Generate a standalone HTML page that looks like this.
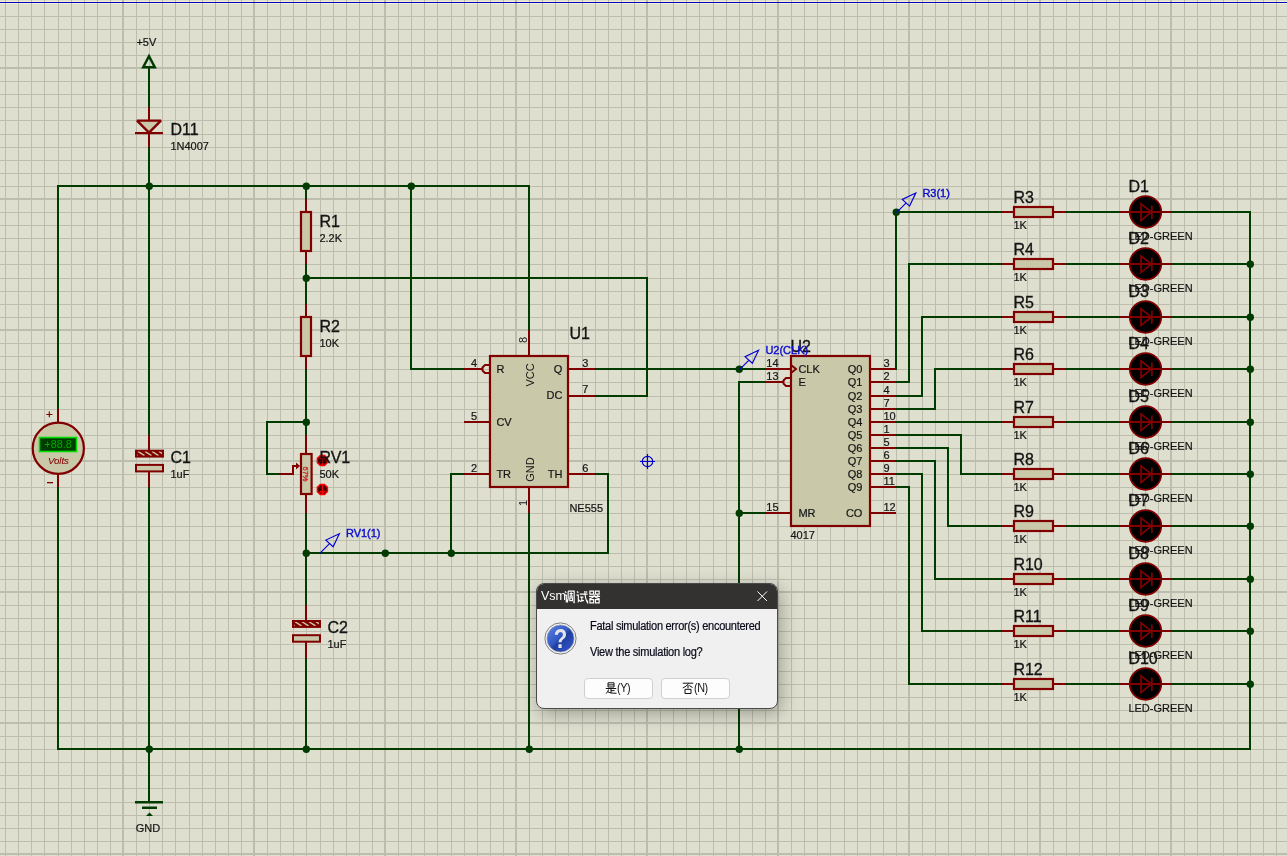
<!DOCTYPE html>
<html><head><meta charset="utf-8"><style>
html,body{margin:0;padding:0;width:1287px;height:856px;overflow:hidden;background:#dfdfd0;}
body{position:relative;font-family:"Liberation Sans", sans-serif;}
</style></head><body>
<svg width="1287" height="856" viewBox="0 0 1287 856" style="position:absolute;left:0;top:0;will-change:transform" font-family='"Liberation Sans", sans-serif'>
<rect width="1287" height="856" fill="#dfdfd0"/>
<rect x="0" y="1" width="1287" height="1" fill="#f4f2d8"/>
<rect x="0" y="3" width="1287" height="1" fill="#f4f2d8"/>
<g fill="#bdbdae" shape-rendering="crispEdges"><rect x="5" y="0" width="1" height="856"/><rect x="18" y="0" width="1" height="856"/><rect x="31" y="0" width="1" height="856"/><rect x="44" y="0" width="1" height="856"/><rect x="58" y="0" width="1" height="856"/><rect x="71" y="0" width="1" height="856"/><rect x="84" y="0" width="1" height="856"/><rect x="97" y="0" width="1" height="856"/><rect x="110" y="0" width="1" height="856"/><rect x="122" y="0" width="2" height="856"/><rect x="136" y="0" width="1" height="856"/><rect x="149" y="0" width="1" height="856"/><rect x="162" y="0" width="1" height="856"/><rect x="175" y="0" width="1" height="856"/><rect x="189" y="0" width="1" height="856"/><rect x="202" y="0" width="1" height="856"/><rect x="215" y="0" width="1" height="856"/><rect x="228" y="0" width="1" height="856"/><rect x="241" y="0" width="1" height="856"/><rect x="253" y="0" width="2" height="856"/><rect x="267" y="0" width="1" height="856"/><rect x="280" y="0" width="1" height="856"/><rect x="293" y="0" width="1" height="856"/><rect x="306" y="0" width="1" height="856"/><rect x="320" y="0" width="1" height="856"/><rect x="333" y="0" width="1" height="856"/><rect x="346" y="0" width="1" height="856"/><rect x="359" y="0" width="1" height="856"/><rect x="372" y="0" width="1" height="856"/><rect x="384" y="0" width="2" height="856"/><rect x="398" y="0" width="1" height="856"/><rect x="411" y="0" width="1" height="856"/><rect x="424" y="0" width="1" height="856"/><rect x="437" y="0" width="1" height="856"/><rect x="451" y="0" width="1" height="856"/><rect x="464" y="0" width="1" height="856"/><rect x="477" y="0" width="1" height="856"/><rect x="490" y="0" width="1" height="856"/><rect x="503" y="0" width="1" height="856"/><rect x="515" y="0" width="2" height="856"/><rect x="529" y="0" width="1" height="856"/><rect x="542" y="0" width="1" height="856"/><rect x="555" y="0" width="1" height="856"/><rect x="568" y="0" width="1" height="856"/><rect x="582" y="0" width="1" height="856"/><rect x="595" y="0" width="1" height="856"/><rect x="608" y="0" width="1" height="856"/><rect x="621" y="0" width="1" height="856"/><rect x="634" y="0" width="1" height="856"/><rect x="646" y="0" width="2" height="856"/><rect x="660" y="0" width="1" height="856"/><rect x="673" y="0" width="1" height="856"/><rect x="686" y="0" width="1" height="856"/><rect x="699" y="0" width="1" height="856"/><rect x="713" y="0" width="1" height="856"/><rect x="726" y="0" width="1" height="856"/><rect x="739" y="0" width="1" height="856"/><rect x="752" y="0" width="1" height="856"/><rect x="765" y="0" width="1" height="856"/><rect x="777" y="0" width="2" height="856"/><rect x="791" y="0" width="1" height="856"/><rect x="804" y="0" width="1" height="856"/><rect x="817" y="0" width="1" height="856"/><rect x="830" y="0" width="1" height="856"/><rect x="844" y="0" width="1" height="856"/><rect x="857" y="0" width="1" height="856"/><rect x="870" y="0" width="1" height="856"/><rect x="883" y="0" width="1" height="856"/><rect x="896" y="0" width="1" height="856"/><rect x="908" y="0" width="2" height="856"/><rect x="922" y="0" width="1" height="856"/><rect x="935" y="0" width="1" height="856"/><rect x="948" y="0" width="1" height="856"/><rect x="961" y="0" width="1" height="856"/><rect x="975" y="0" width="1" height="856"/><rect x="988" y="0" width="1" height="856"/><rect x="1001" y="0" width="1" height="856"/><rect x="1014" y="0" width="1" height="856"/><rect x="1027" y="0" width="1" height="856"/><rect x="1039" y="0" width="2" height="856"/><rect x="1053" y="0" width="1" height="856"/><rect x="1066" y="0" width="1" height="856"/><rect x="1079" y="0" width="1" height="856"/><rect x="1092" y="0" width="1" height="856"/><rect x="1106" y="0" width="1" height="856"/><rect x="1119" y="0" width="1" height="856"/><rect x="1132" y="0" width="1" height="856"/><rect x="1145" y="0" width="1" height="856"/><rect x="1158" y="0" width="1" height="856"/><rect x="1170" y="0" width="2" height="856"/><rect x="1184" y="0" width="1" height="856"/><rect x="1197" y="0" width="1" height="856"/><rect x="1210" y="0" width="1" height="856"/><rect x="1223" y="0" width="1" height="856"/><rect x="1237" y="0" width="1" height="856"/><rect x="1250" y="0" width="1" height="856"/><rect x="1263" y="0" width="1" height="856"/><rect x="1276" y="0" width="1" height="856"/><rect x="0" y="16" width="1287" height="1"/><rect x="0" y="29" width="1287" height="1"/><rect x="0" y="42" width="1287" height="1"/><rect x="0" y="55" width="1287" height="1"/><rect x="0" y="67" width="1287" height="2"/><rect x="0" y="81" width="1287" height="1"/><rect x="0" y="94" width="1287" height="1"/><rect x="0" y="107" width="1287" height="1"/><rect x="0" y="120" width="1287" height="1"/><rect x="0" y="134" width="1287" height="1"/><rect x="0" y="147" width="1287" height="1"/><rect x="0" y="160" width="1287" height="1"/><rect x="0" y="173" width="1287" height="1"/><rect x="0" y="186" width="1287" height="1"/><rect x="0" y="198" width="1287" height="2"/><rect x="0" y="212" width="1287" height="1"/><rect x="0" y="225" width="1287" height="1"/><rect x="0" y="238" width="1287" height="1"/><rect x="0" y="251" width="1287" height="1"/><rect x="0" y="264" width="1287" height="1"/><rect x="0" y="278" width="1287" height="1"/><rect x="0" y="291" width="1287" height="1"/><rect x="0" y="304" width="1287" height="1"/><rect x="0" y="317" width="1287" height="1"/><rect x="0" y="329" width="1287" height="2"/><rect x="0" y="343" width="1287" height="1"/><rect x="0" y="356" width="1287" height="1"/><rect x="0" y="369" width="1287" height="1"/><rect x="0" y="382" width="1287" height="1"/><rect x="0" y="396" width="1287" height="1"/><rect x="0" y="409" width="1287" height="1"/><rect x="0" y="422" width="1287" height="1"/><rect x="0" y="435" width="1287" height="1"/><rect x="0" y="448" width="1287" height="1"/><rect x="0" y="460" width="1287" height="2"/><rect x="0" y="474" width="1287" height="1"/><rect x="0" y="487" width="1287" height="1"/><rect x="0" y="500" width="1287" height="1"/><rect x="0" y="513" width="1287" height="1"/><rect x="0" y="526" width="1287" height="1"/><rect x="0" y="540" width="1287" height="1"/><rect x="0" y="553" width="1287" height="1"/><rect x="0" y="566" width="1287" height="1"/><rect x="0" y="579" width="1287" height="1"/><rect x="0" y="591" width="1287" height="2"/><rect x="0" y="605" width="1287" height="1"/><rect x="0" y="618" width="1287" height="1"/><rect x="0" y="631" width="1287" height="1"/><rect x="0" y="644" width="1287" height="1"/><rect x="0" y="658" width="1287" height="1"/><rect x="0" y="671" width="1287" height="1"/><rect x="0" y="684" width="1287" height="1"/><rect x="0" y="697" width="1287" height="1"/><rect x="0" y="710" width="1287" height="1"/><rect x="0" y="722" width="1287" height="2"/><rect x="0" y="736" width="1287" height="1"/><rect x="0" y="749" width="1287" height="1"/><rect x="0" y="762" width="1287" height="1"/><rect x="0" y="775" width="1287" height="1"/><rect x="0" y="788" width="1287" height="1"/><rect x="0" y="802" width="1287" height="1"/><rect x="0" y="815" width="1287" height="1"/><rect x="0" y="828" width="1287" height="1"/><rect x="0" y="841" width="1287" height="1"/><rect x="0" y="853" width="1287" height="2"/></g>
<rect x="0" y="2" width="1287" height="1" fill="#0000c0"/>
<g shape-rendering="crispEdges"><rect x="57" y="185" width="2" height="225" fill="#003c00"/><rect x="57" y="486" width="2" height="264" fill="#003c00"/><rect x="57" y="185" width="473" height="2" fill="#003c00"/><rect x="148" y="67" width="2" height="41" fill="#003c00"/><rect x="148" y="146" width="2" height="290" fill="#003c00"/><rect x="148" y="486" width="2" height="317" fill="#003c00"/><rect x="305" y="185" width="2" height="15" fill="#003c00"/><rect x="305" y="263" width="2" height="42" fill="#003c00"/><rect x="305" y="368" width="2" height="68" fill="#003c00"/><rect x="305" y="512" width="2" height="94" fill="#003c00"/><rect x="305" y="657" width="2" height="93" fill="#003c00"/><rect x="305" y="277" width="343" height="2" fill="#003c00"/><rect x="646" y="277" width="2" height="120" fill="#003c00"/><rect x="594" y="395" width="54" height="2" fill="#003c00"/><rect x="410" y="185" width="2" height="185" fill="#003c00"/><rect x="410" y="368" width="55" height="2" fill="#003c00"/><rect x="528" y="185" width="2" height="146" fill="#003c00"/><rect x="528" y="512" width="2" height="238" fill="#003c00"/><rect x="450" y="473" width="15" height="2" fill="#003c00"/><rect x="450" y="473" width="2" height="81" fill="#003c00"/><rect x="594" y="473" width="15" height="2" fill="#003c00"/><rect x="607" y="473" width="2" height="81" fill="#003c00"/><rect x="305" y="552" width="304" height="2" fill="#003c00"/><rect x="594" y="368" width="172" height="2" fill="#003c00"/><rect x="738" y="381" width="2" height="369" fill="#003c00"/><rect x="738" y="381" width="28" height="2" fill="#003c00"/><rect x="738" y="512" width="28" height="2" fill="#003c00"/><rect x="57" y="748" width="1194" height="2" fill="#003c00"/><rect x="1249" y="211" width="2" height="539" fill="#003c00"/><rect x="895" y="368" width="2" height="2" fill="#003c00"/><rect x="895" y="211" width="2" height="159" fill="#003c00"/><rect x="895" y="211" width="107" height="2" fill="#003c00"/><rect x="1065" y="211" width="55" height="2" fill="#003c00"/><rect x="1170" y="211" width="81" height="2" fill="#003c00"/><rect x="895" y="381" width="15" height="2" fill="#003c00"/><rect x="908" y="263" width="2" height="120" fill="#003c00"/><rect x="908" y="263" width="94" height="2" fill="#003c00"/><rect x="1065" y="263" width="55" height="2" fill="#003c00"/><rect x="1170" y="263" width="81" height="2" fill="#003c00"/><rect x="895" y="395" width="28" height="2" fill="#003c00"/><rect x="921" y="316" width="2" height="81" fill="#003c00"/><rect x="921" y="316" width="81" height="2" fill="#003c00"/><rect x="1065" y="316" width="55" height="2" fill="#003c00"/><rect x="1170" y="316" width="81" height="2" fill="#003c00"/><rect x="895" y="408" width="41" height="2" fill="#003c00"/><rect x="934" y="368" width="2" height="42" fill="#003c00"/><rect x="934" y="368" width="68" height="2" fill="#003c00"/><rect x="1065" y="368" width="55" height="2" fill="#003c00"/><rect x="1170" y="368" width="81" height="2" fill="#003c00"/><rect x="895" y="421" width="107" height="2" fill="#003c00"/><rect x="1065" y="421" width="55" height="2" fill="#003c00"/><rect x="1170" y="421" width="81" height="2" fill="#003c00"/><rect x="895" y="434" width="67" height="2" fill="#003c00"/><rect x="960" y="434" width="2" height="41" fill="#003c00"/><rect x="960" y="473" width="42" height="2" fill="#003c00"/><rect x="1065" y="473" width="55" height="2" fill="#003c00"/><rect x="1170" y="473" width="81" height="2" fill="#003c00"/><rect x="895" y="447" width="54" height="2" fill="#003c00"/><rect x="947" y="447" width="2" height="80" fill="#003c00"/><rect x="947" y="525" width="55" height="2" fill="#003c00"/><rect x="1065" y="525" width="55" height="2" fill="#003c00"/><rect x="1170" y="525" width="81" height="2" fill="#003c00"/><rect x="895" y="460" width="41" height="2" fill="#003c00"/><rect x="934" y="460" width="2" height="120" fill="#003c00"/><rect x="934" y="578" width="68" height="2" fill="#003c00"/><rect x="1065" y="578" width="55" height="2" fill="#003c00"/><rect x="1170" y="578" width="81" height="2" fill="#003c00"/><rect x="895" y="473" width="28" height="2" fill="#003c00"/><rect x="921" y="473" width="2" height="159" fill="#003c00"/><rect x="921" y="630" width="81" height="2" fill="#003c00"/><rect x="1065" y="630" width="55" height="2" fill="#003c00"/><rect x="1170" y="630" width="81" height="2" fill="#003c00"/><rect x="895" y="486" width="15" height="2" fill="#003c00"/><rect x="908" y="486" width="2" height="199" fill="#003c00"/><rect x="908" y="683" width="94" height="2" fill="#003c00"/><rect x="1065" y="683" width="55" height="2" fill="#003c00"/><rect x="1170" y="683" width="81" height="2" fill="#003c00"/><rect x="266" y="421" width="41" height="2" fill="#003c00"/><rect x="266" y="421" width="2" height="54" fill="#003c00"/><rect x="266" y="473" width="15" height="2" fill="#003c00"/><rect x="148" y="107" width="2" height="40" fill="#800000"/><rect x="57" y="409" width="2" height="13" fill="#800000"/><rect x="57" y="474" width="2" height="13" fill="#800000"/><rect x="148" y="435" width="2" height="16" fill="#800000"/><rect x="148" y="471" width="2" height="16" fill="#800000"/><rect x="305" y="605" width="2" height="16" fill="#800000"/><rect x="305" y="641" width="2" height="17" fill="#800000"/><rect x="305" y="199" width="2" height="13" fill="#800000"/><rect x="305" y="251" width="2" height="13" fill="#800000"/><rect x="305" y="304" width="2" height="13" fill="#800000"/><rect x="305" y="356" width="2" height="13" fill="#800000"/><rect x="305" y="435" width="2" height="19" fill="#800000"/><rect x="305" y="494" width="2" height="19" fill="#800000"/><rect x="280" y="473" width="13" height="2" fill="#800000"/><rect x="292" y="465" width="2" height="10" fill="#800000"/><rect x="292" y="465" width="6" height="2" fill="#800000"/><rect x="464" y="368" width="19" height="2" fill="#800000"/><rect x="464" y="421" width="26" height="2" fill="#800000"/><rect x="464" y="473" width="26" height="2" fill="#800000"/><rect x="568" y="368" width="27" height="2" fill="#800000"/><rect x="568" y="395" width="27" height="2" fill="#800000"/><rect x="568" y="473" width="27" height="2" fill="#800000"/><rect x="528" y="330" width="2" height="26" fill="#800000"/><rect x="528" y="487" width="2" height="26" fill="#800000"/><rect x="765" y="368" width="26" height="2" fill="#800000"/><rect x="765" y="381" width="18" height="2" fill="#800000"/><rect x="765" y="512" width="26" height="2" fill="#800000"/><rect x="870" y="368" width="26" height="2" fill="#800000"/><rect x="870" y="381" width="26" height="2" fill="#800000"/><rect x="870" y="395" width="26" height="2" fill="#800000"/><rect x="870" y="408" width="26" height="2" fill="#800000"/><rect x="870" y="421" width="26" height="2" fill="#800000"/><rect x="870" y="434" width="26" height="2" fill="#800000"/><rect x="870" y="447" width="26" height="2" fill="#800000"/><rect x="870" y="460" width="26" height="2" fill="#800000"/><rect x="870" y="473" width="26" height="2" fill="#800000"/><rect x="870" y="486" width="26" height="2" fill="#800000"/><rect x="870" y="512" width="26" height="2" fill="#800000"/><rect x="1001" y="211" width="13" height="2" fill="#800000"/><rect x="1053" y="211" width="13" height="2" fill="#800000"/><rect x="1001" y="263" width="13" height="2" fill="#800000"/><rect x="1053" y="263" width="13" height="2" fill="#800000"/><rect x="1001" y="316" width="13" height="2" fill="#800000"/><rect x="1053" y="316" width="13" height="2" fill="#800000"/><rect x="1001" y="368" width="13" height="2" fill="#800000"/><rect x="1053" y="368" width="13" height="2" fill="#800000"/><rect x="1001" y="421" width="13" height="2" fill="#800000"/><rect x="1053" y="421" width="13" height="2" fill="#800000"/><rect x="1001" y="473" width="13" height="2" fill="#800000"/><rect x="1053" y="473" width="13" height="2" fill="#800000"/><rect x="1001" y="525" width="13" height="2" fill="#800000"/><rect x="1053" y="525" width="13" height="2" fill="#800000"/><rect x="1001" y="578" width="13" height="2" fill="#800000"/><rect x="1053" y="578" width="13" height="2" fill="#800000"/><rect x="1001" y="630" width="13" height="2" fill="#800000"/><rect x="1053" y="630" width="13" height="2" fill="#800000"/><rect x="1001" y="683" width="13" height="2" fill="#800000"/><rect x="1053" y="683" width="13" height="2" fill="#800000"/></g>
<g fill="#003c00"><circle cx="1250.3" cy="264.3" r="3.7"/><circle cx="1250.3" cy="317.3" r="3.7"/><circle cx="1250.3" cy="369.3" r="3.7"/><circle cx="1250.3" cy="422.3" r="3.7"/><circle cx="1250.3" cy="474.3" r="3.7"/><circle cx="1250.3" cy="526.3" r="3.7"/><circle cx="1250.3" cy="579.3" r="3.7"/><circle cx="1250.3" cy="631.3" r="3.7"/><circle cx="1250.3" cy="684.3" r="3.7"/><circle cx="149.3" cy="186.3" r="3.7"/><circle cx="306.3" cy="186.3" r="3.7"/><circle cx="411.3" cy="186.3" r="3.7"/><circle cx="306.3" cy="278.3" r="3.7"/><circle cx="306.3" cy="422.3" r="3.7"/><circle cx="306.3" cy="553.3" r="3.7"/><circle cx="385.3" cy="553.3" r="3.7"/><circle cx="451.3" cy="553.3" r="3.7"/><circle cx="149.3" cy="749.3" r="3.7"/><circle cx="306.3" cy="749.3" r="3.7"/><circle cx="529.3" cy="749.3" r="3.7"/><circle cx="739.3" cy="749.3" r="3.7"/><circle cx="739.3" cy="369.3" r="3.7"/><circle cx="739.3" cy="513.3" r="3.7"/><circle cx="896.3" cy="212.3" r="3.7"/></g>
<polygon points="143.2,67.2 154.8,67.2 149,56.2" fill="none" stroke="#003c00" stroke-width="2.5" stroke-linejoin="miter"/><polygon points="137,120.6 161,120.6 149,132.6" fill="#c9c9aa" stroke="#800000" stroke-width="2.3" stroke-linejoin="bevel"/><rect x="135" y="132" width="28" height="2.2" fill="#800000"/><circle cx="58.3" cy="448.3" r="25.6" fill="#c9c9aa" stroke="#800000" stroke-width="2.2"/><rect x="39.5" y="437.5" width="37" height="14" fill="#003c00" stroke="#00e000" stroke-width="1.6"/><rect x="47" y="482" width="6" height="1.3" fill="#800000"/><clipPath id="cc11"><rect x="137" y="451.6" width="25" height="4.1"/></clipPath><rect x="136" y="450.7" width="27" height="5.9" fill="#800000" stroke="#800000" stroke-width="2"/><g clip-path="url(#cc11)" stroke="#c9c9aa" stroke-width="1.4"><line x1="131.0" y1="451.4" x2="137.5" y2="455.6"/><line x1="138.0" y1="451.4" x2="144.5" y2="455.6"/><line x1="145.0" y1="451.4" x2="151.5" y2="455.6"/><line x1="152.0" y1="451.4" x2="158.5" y2="455.6"/><line x1="159.0" y1="451.4" x2="165.5" y2="455.6"/></g><rect x="136" y="464.9" width="27" height="6.5" fill="#c9c9aa" stroke="#800000" stroke-width="2"/><clipPath id="cc23"><rect x="294" y="621.9" width="25" height="4.1"/></clipPath><rect x="293" y="621.0" width="27" height="5.9" fill="#800000" stroke="#800000" stroke-width="2"/><g clip-path="url(#cc23)" stroke="#c9c9aa" stroke-width="1.4"><line x1="288.0" y1="621.7" x2="294.5" y2="625.9"/><line x1="295.0" y1="621.7" x2="301.5" y2="625.9"/><line x1="302.0" y1="621.7" x2="308.5" y2="625.9"/><line x1="309.0" y1="621.7" x2="315.5" y2="625.9"/><line x1="316.0" y1="621.7" x2="322.5" y2="625.9"/></g><rect x="293" y="635.2" width="27" height="6.5" fill="#c9c9aa" stroke="#800000" stroke-width="2"/><rect x="301" y="212" width="10" height="39" fill="#c9c9aa" stroke="#800000" stroke-width="2.2"/><rect x="301" y="317" width="10" height="39" fill="#c9c9aa" stroke="#800000" stroke-width="2.2"/><rect x="301" y="454" width="10.6" height="40" fill="#c9c9aa" stroke="#800000" stroke-width="2.2"/><polygon points="296,462.5 300,466 296,469.5" fill="#800000"/><text x="0" y="0" font-size="7.5" fill="#c82828" stroke="#c82828" stroke-width="0.35" transform="translate(303.2,474) rotate(90)" text-anchor="middle" font-family='"Liberation Sans", sans-serif'>67%</text><polygon points="327.39,462.57 324.47,465.49 320.33,465.49 317.41,462.57 317.41,458.43 320.33,455.51 324.47,455.51 327.39,458.43" fill="#3a0000" stroke="#ff0000" stroke-width="1.5"/><polygon points="327.39,491.57 324.47,494.49 320.33,494.49 317.41,491.57 317.41,487.43 320.33,484.51 324.47,484.51 327.39,487.43" fill="#3a0000" stroke="#ff0000" stroke-width="1.5"/><path d="M322.4,465 V456.5 M320,459 L322.4,456.5 L324.8,459" stroke="#ff0000" stroke-width="1.3" fill="none"/><path d="M322.4,485 V493.5 M320,491 L322.4,493.5 L324.8,491" stroke="#ff0000" stroke-width="1.3" fill="none"/><line x1="320.04999999999995" y1="553.2" x2="329.54999999999995" y2="543.7" stroke="#0000d8" stroke-width="1.15"/><polygon points="339.34999999999997,533.7 325.84999999999997,540.1 333.15,546.7" fill="none" stroke="#0000d8" stroke-width="1.15"/><line x1="739.25" y1="369.8" x2="748.75" y2="360.3" stroke="#0000d8" stroke-width="1.15"/><polygon points="758.55,350.3 745.05,356.7 752.35,363.3" fill="none" stroke="#0000d8" stroke-width="1.15"/><line x1="896.4499999999999" y1="212.6" x2="905.9499999999999" y2="203.1" stroke="#0000d8" stroke-width="1.15"/><polygon points="915.7499999999999,193.1 902.2499999999999,199.5 909.55,206.1" fill="none" stroke="#0000d8" stroke-width="1.15"/><rect x="490" y="356" width="78" height="131" fill="#c9c9aa" stroke="#800000" stroke-width="2.2"/><path d="M490,365 H485 L482.5,367.5 V370.5 L485,373 H490" fill="none" stroke="#800000" stroke-width="2"/><text x="0" y="0" font-size="11" fill="#141414" text-anchor="middle" transform="translate(533.5,375) rotate(-90)">VCC</text><text x="0" y="0" font-size="11" fill="#141414" text-anchor="middle" transform="translate(533.5,469.5) rotate(-90)">GND</text><text x="0" y="0" font-size="11" fill="#141414" text-anchor="middle" transform="translate(527,340) rotate(-90)">8</text><text x="0" y="0" font-size="11" fill="#141414" text-anchor="middle" transform="translate(527,503) rotate(-90)">1</text><rect x="791" y="356" width="79" height="170" fill="#c9c9aa" stroke="#800000" stroke-width="2.2"/><path d="M791,378 H786 L783.5,380.5 V383.5 L786,386 H791" fill="none" stroke="#800000" stroke-width="2"/><polyline points="791,365 796,369 791,373" fill="none" stroke="#800000" stroke-width="2"/><rect x="1014" y="207" width="39" height="10" fill="#c9c9aa" stroke="#800000" stroke-width="2.2"/><circle cx="1145.5" cy="212" r="15.8" fill="#000" stroke="#800000" stroke-width="1.7"/><rect x="1119" y="211" width="52" height="2" fill="#800000"/><polygon points="1141,204 1141,220.5 1151.5,212" fill="none" stroke="#800000" stroke-width="1.7" transform="translate(0,0)"/><rect x="1151" y="205.5" width="1.7" height="13.5" fill="#800000"/><rect x="1014" y="259" width="39" height="10" fill="#c9c9aa" stroke="#800000" stroke-width="2.2"/><circle cx="1145.5" cy="264" r="15.8" fill="#000" stroke="#800000" stroke-width="1.7"/><rect x="1119" y="263" width="52" height="2" fill="#800000"/><polygon points="1141,204 1141,220.5 1151.5,212" fill="none" stroke="#800000" stroke-width="1.7" transform="translate(0,52)"/><rect x="1151" y="257.5" width="1.7" height="13.5" fill="#800000"/><rect x="1014" y="312" width="39" height="10" fill="#c9c9aa" stroke="#800000" stroke-width="2.2"/><circle cx="1145.5" cy="317" r="15.8" fill="#000" stroke="#800000" stroke-width="1.7"/><rect x="1119" y="316" width="52" height="2" fill="#800000"/><polygon points="1141,204 1141,220.5 1151.5,212" fill="none" stroke="#800000" stroke-width="1.7" transform="translate(0,105)"/><rect x="1151" y="310.5" width="1.7" height="13.5" fill="#800000"/><rect x="1014" y="364" width="39" height="10" fill="#c9c9aa" stroke="#800000" stroke-width="2.2"/><circle cx="1145.5" cy="369" r="15.8" fill="#000" stroke="#800000" stroke-width="1.7"/><rect x="1119" y="368" width="52" height="2" fill="#800000"/><polygon points="1141,204 1141,220.5 1151.5,212" fill="none" stroke="#800000" stroke-width="1.7" transform="translate(0,157)"/><rect x="1151" y="362.5" width="1.7" height="13.5" fill="#800000"/><rect x="1014" y="417" width="39" height="10" fill="#c9c9aa" stroke="#800000" stroke-width="2.2"/><circle cx="1145.5" cy="422" r="15.8" fill="#000" stroke="#800000" stroke-width="1.7"/><rect x="1119" y="421" width="52" height="2" fill="#800000"/><polygon points="1141,204 1141,220.5 1151.5,212" fill="none" stroke="#800000" stroke-width="1.7" transform="translate(0,210)"/><rect x="1151" y="415.5" width="1.7" height="13.5" fill="#800000"/><rect x="1014" y="469" width="39" height="10" fill="#c9c9aa" stroke="#800000" stroke-width="2.2"/><circle cx="1145.5" cy="474" r="15.8" fill="#000" stroke="#800000" stroke-width="1.7"/><rect x="1119" y="473" width="52" height="2" fill="#800000"/><polygon points="1141,204 1141,220.5 1151.5,212" fill="none" stroke="#800000" stroke-width="1.7" transform="translate(0,262)"/><rect x="1151" y="467.5" width="1.7" height="13.5" fill="#800000"/><rect x="1014" y="521" width="39" height="10" fill="#c9c9aa" stroke="#800000" stroke-width="2.2"/><circle cx="1145.5" cy="526" r="15.8" fill="#000" stroke="#800000" stroke-width="1.7"/><rect x="1119" y="525" width="52" height="2" fill="#800000"/><polygon points="1141,204 1141,220.5 1151.5,212" fill="none" stroke="#800000" stroke-width="1.7" transform="translate(0,314)"/><rect x="1151" y="519.5" width="1.7" height="13.5" fill="#800000"/><rect x="1014" y="574" width="39" height="10" fill="#c9c9aa" stroke="#800000" stroke-width="2.2"/><circle cx="1145.5" cy="579" r="15.8" fill="#000" stroke="#800000" stroke-width="1.7"/><rect x="1119" y="578" width="52" height="2" fill="#800000"/><polygon points="1141,204 1141,220.5 1151.5,212" fill="none" stroke="#800000" stroke-width="1.7" transform="translate(0,367)"/><rect x="1151" y="572.5" width="1.7" height="13.5" fill="#800000"/><rect x="1014" y="626" width="39" height="10" fill="#c9c9aa" stroke="#800000" stroke-width="2.2"/><circle cx="1145.5" cy="631" r="15.8" fill="#000" stroke="#800000" stroke-width="1.7"/><rect x="1119" y="630" width="52" height="2" fill="#800000"/><polygon points="1141,204 1141,220.5 1151.5,212" fill="none" stroke="#800000" stroke-width="1.7" transform="translate(0,419)"/><rect x="1151" y="624.5" width="1.7" height="13.5" fill="#800000"/><rect x="1014" y="679" width="39" height="10" fill="#c9c9aa" stroke="#800000" stroke-width="2.2"/><circle cx="1145.5" cy="684" r="15.8" fill="#000" stroke="#800000" stroke-width="1.7"/><rect x="1119" y="683" width="52" height="2" fill="#800000"/><polygon points="1141,204 1141,220.5 1151.5,212" fill="none" stroke="#800000" stroke-width="1.7" transform="translate(0,472)"/><rect x="1151" y="677.5" width="1.7" height="13.5" fill="#800000"/><rect x="135" y="801" width="28" height="2.5" fill="#003c00"/><rect x="142" y="806.5" width="15" height="2.5" fill="#003c00"/><polygon points="146,816 149.5,812.5 153,816" fill="#003c00"/><g stroke="#0000d0" stroke-width="1.2" fill="none"><circle cx="647.5" cy="461.5" r="5.2"/><path d="M640,461.5 H655 M647.5,454 V469"/></g>
<text x="136.40" y="46" font-size="11" fill="#141414" stroke="#141414" stroke-width="0.2" text-anchor="start" >+5V</text><text x="170.40" y="135" font-size="16" fill="#141414" stroke="#141414" stroke-width="0.32" text-anchor="start" >D11</text><text x="170.40" y="150" font-size="11" fill="#141414" stroke="#141414" stroke-width="0.2" text-anchor="start" >1N4007</text><text x="58.00" y="448" font-size="10.8" fill="#00a800" stroke="#00a800" stroke-width="0" text-anchor="middle" >+88.8</text><text x="58.40" y="463.5" font-size="9.6" fill="#800000" stroke="#800000" stroke-width="0.1" text-anchor="middle" font-style="italic">Volts</text><text x="49.40" y="417.5" font-size="11.5" fill="#800000" stroke="#800000" stroke-width="0.3" text-anchor="middle" >+</text><text x="170.40" y="463" font-size="16" fill="#141414" stroke="#141414" stroke-width="0.32" text-anchor="start" >C1</text><text x="170.40" y="478" font-size="11" fill="#141414" stroke="#141414" stroke-width="0.2" text-anchor="start" >1uF</text><text x="327.40" y="633" font-size="16" fill="#141414" stroke="#141414" stroke-width="0.32" text-anchor="start" >C2</text><text x="327.40" y="648" font-size="11" fill="#141414" stroke="#141414" stroke-width="0.2" text-anchor="start" >1uF</text><text x="319.40" y="227" font-size="16" fill="#141414" stroke="#141414" stroke-width="0.32" text-anchor="start" >R1</text><text x="319.40" y="242" font-size="11" fill="#141414" stroke="#141414" stroke-width="0.2" text-anchor="start" >2.2K</text><text x="319.40" y="332" font-size="16" fill="#141414" stroke="#141414" stroke-width="0.32" text-anchor="start" >R2</text><text x="319.40" y="347" font-size="11" fill="#141414" stroke="#141414" stroke-width="0.2" text-anchor="start" >10K</text><text x="319.40" y="463" font-size="16" fill="#141414" stroke="#141414" stroke-width="0.32" text-anchor="start" >RV1</text><text x="319.40" y="478" font-size="11" fill="#141414" stroke="#141414" stroke-width="0.2" text-anchor="start" >50K</text><text x="474.00" y="367" font-size="11" fill="#141414" stroke="#141414" stroke-width="0.2" text-anchor="middle" >4</text><text x="474.00" y="420" font-size="11" fill="#141414" stroke="#141414" stroke-width="0.2" text-anchor="middle" >5</text><text x="474.00" y="472" font-size="11" fill="#141414" stroke="#141414" stroke-width="0.2" text-anchor="middle" >2</text><text x="585.40" y="367" font-size="11" fill="#141414" stroke="#141414" stroke-width="0.2" text-anchor="middle" >3</text><text x="585.40" y="393" font-size="11" fill="#141414" stroke="#141414" stroke-width="0.2" text-anchor="middle" >7</text><text x="585.40" y="472" font-size="11" fill="#141414" stroke="#141414" stroke-width="0.2" text-anchor="middle" >6</text><text x="496.40" y="373" font-size="11" fill="#141414" stroke="#141414" stroke-width="0.2" text-anchor="start" >R</text><text x="496.40" y="426" font-size="11" fill="#141414" stroke="#141414" stroke-width="0.2" text-anchor="start" >CV</text><text x="496.40" y="478" font-size="11" fill="#141414" stroke="#141414" stroke-width="0.2" text-anchor="start" >TR</text><text x="562.40" y="373" font-size="11" fill="#141414" stroke="#141414" stroke-width="0.2" text-anchor="end" >Q</text><text x="562.40" y="399" font-size="11" fill="#141414" stroke="#141414" stroke-width="0.2" text-anchor="end" >DC</text><text x="562.40" y="478" font-size="11" fill="#141414" stroke="#141414" stroke-width="0.2" text-anchor="end" >TH</text><text x="569.40" y="339" font-size="16" fill="#141414" stroke="#141414" stroke-width="0.32" text-anchor="start" >U1</text><text x="569.40" y="511.5" font-size="11" fill="#141414" stroke="#141414" stroke-width="0.2" text-anchor="start" >NE555</text><text x="772.40" y="367" font-size="11" fill="#141414" stroke="#141414" stroke-width="0.2" text-anchor="middle" >14</text><text x="772.40" y="380" font-size="11" fill="#141414" stroke="#141414" stroke-width="0.2" text-anchor="middle" >13</text><text x="772.40" y="511" font-size="11" fill="#141414" stroke="#141414" stroke-width="0.2" text-anchor="middle" >15</text><text x="798.40" y="373" font-size="11" fill="#141414" stroke="#141414" stroke-width="0.2" text-anchor="start" >CLK</text><text x="798.40" y="386" font-size="11" fill="#141414" stroke="#141414" stroke-width="0.2" text-anchor="start" >E</text><text x="798.40" y="517" font-size="11" fill="#141414" stroke="#141414" stroke-width="0.2" text-anchor="start" >MR</text><text x="862.40" y="373" font-size="11" fill="#141414" stroke="#141414" stroke-width="0.2" text-anchor="end" >Q0</text><text x="883.40" y="367" font-size="11" fill="#141414" stroke="#141414" stroke-width="0.2" text-anchor="start" >3</text><text x="862.40" y="386" font-size="11" fill="#141414" stroke="#141414" stroke-width="0.2" text-anchor="end" >Q1</text><text x="883.40" y="380" font-size="11" fill="#141414" stroke="#141414" stroke-width="0.2" text-anchor="start" >2</text><text x="862.40" y="400" font-size="11" fill="#141414" stroke="#141414" stroke-width="0.2" text-anchor="end" >Q2</text><text x="883.40" y="394" font-size="11" fill="#141414" stroke="#141414" stroke-width="0.2" text-anchor="start" >4</text><text x="862.40" y="413" font-size="11" fill="#141414" stroke="#141414" stroke-width="0.2" text-anchor="end" >Q3</text><text x="883.40" y="407" font-size="11" fill="#141414" stroke="#141414" stroke-width="0.2" text-anchor="start" >7</text><text x="862.40" y="426" font-size="11" fill="#141414" stroke="#141414" stroke-width="0.2" text-anchor="end" >Q4</text><text x="883.40" y="420" font-size="11" fill="#141414" stroke="#141414" stroke-width="0.2" text-anchor="start" >10</text><text x="862.40" y="439" font-size="11" fill="#141414" stroke="#141414" stroke-width="0.2" text-anchor="end" >Q5</text><text x="883.40" y="433" font-size="11" fill="#141414" stroke="#141414" stroke-width="0.2" text-anchor="start" >1</text><text x="862.40" y="452" font-size="11" fill="#141414" stroke="#141414" stroke-width="0.2" text-anchor="end" >Q6</text><text x="883.40" y="446" font-size="11" fill="#141414" stroke="#141414" stroke-width="0.2" text-anchor="start" >5</text><text x="862.40" y="465" font-size="11" fill="#141414" stroke="#141414" stroke-width="0.2" text-anchor="end" >Q7</text><text x="883.40" y="459" font-size="11" fill="#141414" stroke="#141414" stroke-width="0.2" text-anchor="start" >6</text><text x="862.40" y="478" font-size="11" fill="#141414" stroke="#141414" stroke-width="0.2" text-anchor="end" >Q8</text><text x="883.40" y="472" font-size="11" fill="#141414" stroke="#141414" stroke-width="0.2" text-anchor="start" >9</text><text x="862.40" y="491" font-size="11" fill="#141414" stroke="#141414" stroke-width="0.2" text-anchor="end" >Q9</text><text x="883.40" y="485" font-size="11" fill="#141414" stroke="#141414" stroke-width="0.2" text-anchor="start" >11</text><text x="862.40" y="517" font-size="11" fill="#141414" stroke="#141414" stroke-width="0.2" text-anchor="end" >CO</text><text x="883.40" y="511" font-size="11" fill="#141414" stroke="#141414" stroke-width="0.2" text-anchor="start" >12</text><text x="790.40" y="352" font-size="16" fill="#141414" stroke="#141414" stroke-width="0.32" text-anchor="start" >U2</text><text x="790.40" y="539" font-size="11" fill="#141414" stroke="#141414" stroke-width="0.2" text-anchor="start" >4017</text><text x="1013.40" y="203" font-size="16" fill="#141414" stroke="#141414" stroke-width="0.32" text-anchor="start" >R3</text><text x="1013.40" y="229" font-size="11" fill="#141414" stroke="#141414" stroke-width="0.2" text-anchor="start" >1K</text><text x="1013.40" y="255" font-size="16" fill="#141414" stroke="#141414" stroke-width="0.32" text-anchor="start" >R4</text><text x="1013.40" y="281" font-size="11" fill="#141414" stroke="#141414" stroke-width="0.2" text-anchor="start" >1K</text><text x="1013.40" y="308" font-size="16" fill="#141414" stroke="#141414" stroke-width="0.32" text-anchor="start" >R5</text><text x="1013.40" y="334" font-size="11" fill="#141414" stroke="#141414" stroke-width="0.2" text-anchor="start" >1K</text><text x="1013.40" y="360" font-size="16" fill="#141414" stroke="#141414" stroke-width="0.32" text-anchor="start" >R6</text><text x="1013.40" y="386" font-size="11" fill="#141414" stroke="#141414" stroke-width="0.2" text-anchor="start" >1K</text><text x="1013.40" y="413" font-size="16" fill="#141414" stroke="#141414" stroke-width="0.32" text-anchor="start" >R7</text><text x="1013.40" y="439" font-size="11" fill="#141414" stroke="#141414" stroke-width="0.2" text-anchor="start" >1K</text><text x="1013.40" y="465" font-size="16" fill="#141414" stroke="#141414" stroke-width="0.32" text-anchor="start" >R8</text><text x="1013.40" y="491" font-size="11" fill="#141414" stroke="#141414" stroke-width="0.2" text-anchor="start" >1K</text><text x="1013.40" y="517" font-size="16" fill="#141414" stroke="#141414" stroke-width="0.32" text-anchor="start" >R9</text><text x="1013.40" y="543" font-size="11" fill="#141414" stroke="#141414" stroke-width="0.2" text-anchor="start" >1K</text><text x="1013.40" y="570" font-size="16" fill="#141414" stroke="#141414" stroke-width="0.32" text-anchor="start" >R10</text><text x="1013.40" y="596" font-size="11" fill="#141414" stroke="#141414" stroke-width="0.2" text-anchor="start" >1K</text><text x="1013.40" y="622" font-size="16" fill="#141414" stroke="#141414" stroke-width="0.32" text-anchor="start" >R11</text><text x="1013.40" y="648" font-size="11" fill="#141414" stroke="#141414" stroke-width="0.2" text-anchor="start" >1K</text><text x="1013.40" y="675" font-size="16" fill="#141414" stroke="#141414" stroke-width="0.32" text-anchor="start" >R12</text><text x="1013.40" y="701" font-size="11" fill="#141414" stroke="#141414" stroke-width="0.2" text-anchor="start" >1K</text><text x="1128.40" y="192" font-size="16" fill="#141414" stroke="#141414" stroke-width="0.32" text-anchor="start" >D1</text><text x="1128.40" y="240" font-size="11" fill="#141414" stroke="#141414" stroke-width="0.2" text-anchor="start" >LED-GREEN</text><text x="1128.40" y="244" font-size="16" fill="#141414" stroke="#141414" stroke-width="0.32" text-anchor="start" >D2</text><text x="1128.40" y="292" font-size="11" fill="#141414" stroke="#141414" stroke-width="0.2" text-anchor="start" >LED-GREEN</text><text x="1128.40" y="297" font-size="16" fill="#141414" stroke="#141414" stroke-width="0.32" text-anchor="start" >D3</text><text x="1128.40" y="345" font-size="11" fill="#141414" stroke="#141414" stroke-width="0.2" text-anchor="start" >LED-GREEN</text><text x="1128.40" y="349" font-size="16" fill="#141414" stroke="#141414" stroke-width="0.32" text-anchor="start" >D4</text><text x="1128.40" y="397" font-size="11" fill="#141414" stroke="#141414" stroke-width="0.2" text-anchor="start" >LED-GREEN</text><text x="1128.40" y="402" font-size="16" fill="#141414" stroke="#141414" stroke-width="0.32" text-anchor="start" >D5</text><text x="1128.40" y="450" font-size="11" fill="#141414" stroke="#141414" stroke-width="0.2" text-anchor="start" >LED-GREEN</text><text x="1128.40" y="454" font-size="16" fill="#141414" stroke="#141414" stroke-width="0.32" text-anchor="start" >D6</text><text x="1128.40" y="502" font-size="11" fill="#141414" stroke="#141414" stroke-width="0.2" text-anchor="start" >LED-GREEN</text><text x="1128.40" y="506" font-size="16" fill="#141414" stroke="#141414" stroke-width="0.32" text-anchor="start" >D7</text><text x="1128.40" y="554" font-size="11" fill="#141414" stroke="#141414" stroke-width="0.2" text-anchor="start" >LED-GREEN</text><text x="1128.40" y="559" font-size="16" fill="#141414" stroke="#141414" stroke-width="0.32" text-anchor="start" >D8</text><text x="1128.40" y="607" font-size="11" fill="#141414" stroke="#141414" stroke-width="0.2" text-anchor="start" >LED-GREEN</text><text x="1128.40" y="611" font-size="16" fill="#141414" stroke="#141414" stroke-width="0.32" text-anchor="start" >D9</text><text x="1128.40" y="659" font-size="11" fill="#141414" stroke="#141414" stroke-width="0.2" text-anchor="start" >LED-GREEN</text><text x="1128.40" y="664" font-size="16" fill="#141414" stroke="#141414" stroke-width="0.32" text-anchor="start" >D10</text><text x="1128.40" y="712" font-size="11" fill="#141414" stroke="#141414" stroke-width="0.2" text-anchor="start" >LED-GREEN</text><text x="147.90" y="832" font-size="11" fill="#141414" stroke="#141414" stroke-width="0.2" text-anchor="middle" >GND</text>
<text x="345.90" y="537" font-size="11" fill="#0c0cd0" stroke="#0c0cd0" stroke-width="0.4" text-anchor="start" >RV1(1)</text><text x="765.40" y="354" font-size="11" fill="#0c0cd0" stroke="#0c0cd0" stroke-width="0.4" text-anchor="start" >U2(CLK)</text><text x="922.40" y="196.5" font-size="11" fill="#0c0cd0" stroke="#0c0cd0" stroke-width="0.4" text-anchor="start" >R3(1)</text>
</svg>
<div id="dlg" style="position:absolute;left:536px;top:583px;width:242px;height:126px;border-radius:8px;background:#f0f0f0;box-shadow:3px 5px 18px rgba(0,0,0,0.30);border:1px solid #4a4a4a;box-sizing:border-box;overflow:hidden;">
  <div style="position:absolute;left:0;top:0;width:100%;height:25px;background:#333231;"></div>
  <div style="position:absolute;left:4px;top:5px;font-size:12.5px;color:#fff;line-height:14px;transform:rotate(0.01deg);">Vsm</div>
  <svg style="position:absolute;left:27px;top:6px" width="37" height="14" viewBox="0 0 40 14" preserveAspectRatio="none" fill="none" stroke="#ffffff" stroke-width="1.25">
    <!-- 调 -->
    <path d="M1,1.5 L2.5,2.8 M0.5,5 H2.5 V11.5 L4,10"/>
    <path d="M4.5,1.2 H11 V12.5 L10,12 M4.5,1.2 V8.5 L3.5,12.5"/>
    <path d="M6,3.5 H9.5 M7.7,2.3 V6 M5.8,6 H9.7 M6.3,7.8 H9.2 V10.5 H6.3 Z"/>
    <!-- 试 -->
    <path d="M14,1.5 L15.5,2.8 M13.5,5 H15.5 V11.5 L17,10"/>
    <path d="M17,4 H25.5 M17.5,7 H21 M19.2,7 V11 M17,11.3 L21.5,10.3 M22.5,1 Q22.8,9 25.5,12.5 V10.5 M24,1.5 L25,2.5"/>
    <!-- 器 -->
    <path d="M28,1 H32 V4.2 H28 Z M34,1 H38 V4.2 H34 Z"/>
    <path d="M27,6.3 H39 M33,4.5 Q32.5,7.5 27.5,8.8 M33,6.3 Q34.5,8 38.5,8.8 M36,4.8 L37,5.5"/>
    <path d="M28,9.5 H32 V12.8 H28 Z M34,9.5 H38 V12.8 H34 Z"/>
  </svg>
  <svg style="position:absolute;left:219.5px;top:7px" width="11" height="11" viewBox="0 0 11 11" stroke="#ffffff" stroke-width="1"><path d="M0.5,0.5 L10,10 M10,0.5 L0.5,10"/></svg>

  <svg style="position:absolute;left:7px;top:38px" width="33" height="33" viewBox="0 0 33 33">
    <defs>
      <linearGradient id="qg" x1="0" y1="0" x2="1" y2="1">
        <stop offset="0" stop-color="#5d86e6"/>
        <stop offset="0.45" stop-color="#3458c4"/>
        <stop offset="0.55" stop-color="#1e3e9e"/>
        <stop offset="1" stop-color="#3a5ad8"/>
      </linearGradient>
    </defs>
    <circle cx="16.5" cy="16.5" r="15.6" fill="#fafafa" stroke="#7a7a7a" stroke-width="1"/>
    <circle cx="16.5" cy="16.5" r="13.6" fill="url(#qg)" stroke="#a0a4b0" stroke-width="0.8"/>
    <text x="0" y="0" transform="translate(16.6,25.8) scale(0.82,1)" font-size="27" font-weight="bold" text-anchor="middle" fill="#e4e4ea" font-family="Liberation Sans, sans-serif">?</text>
  </svg>

  <div style="position:absolute;left:53px;top:35px;font-size:12px;color:#0a0a1a;-webkit-text-stroke:0.2px #0a0a1a;white-space:nowrap;letter-spacing:-0.3px;line-height:14px;transform-origin:0 0;transform:scaleX(0.918);">Fatal simulation error(s) encountered</div>
  <div style="position:absolute;left:53px;top:61px;font-size:12px;color:#0a0a1a;-webkit-text-stroke:0.2px #0a0a1a;white-space:nowrap;letter-spacing:-0.3px;line-height:14px;transform-origin:0 0;transform:scaleX(0.922);">View the simulation log?</div>

  <div style="position:absolute;left:47px;top:94px;width:69px;height:21px;box-sizing:border-box;border:1px solid #d0d0d0;border-radius:4px;background:#fdfdfd;"></div>
  <div style="position:absolute;left:124px;top:94px;width:69px;height:21px;box-sizing:border-box;border:1px solid #d0d0d0;border-radius:4px;background:#fdfdfd;"></div>
  <svg style="position:absolute;left:68px;top:98px" width="12" height="12" viewBox="0 0 12 12" fill="none" stroke="#111" stroke-width="1">
    <!-- 是 -->
    <path d="M3,0.8 H9 V5 H3 Z M3,2.9 H9 M0.8,6.5 H11.2 M6,6.5 V11 M6,8.6 H9.5 M3.5,7.5 Q3.2,10.5 0.8,11.5 M2.8,9.8 Q5,11.5 11.5,11.3"/>
  </svg>
  <div style="position:absolute;left:80px;top:97px;font-size:12px;color:#111;line-height:14px;letter-spacing:-0.5px;transform-origin:0 0;transform:scaleX(0.9);">(Y)</div>
  <svg style="position:absolute;left:145px;top:98px" width="12" height="12" viewBox="0 0 12 12" fill="none" stroke="#111" stroke-width="1">
    <!-- 否 -->
    <path d="M0.8,1.2 H11.2 M7,1.2 Q4.5,4.5 0.8,6 M6,3 V6.3 M7.2,3.5 L10.5,5.5 M3,7.3 H9 V11.5 H3 Z"/>
  </svg>
  <div style="position:absolute;left:157px;top:97px;font-size:12px;color:#111;line-height:14px;letter-spacing:-0.5px;transform-origin:0 0;transform:scaleX(0.9);">(N)</div>
</div>

</body></html>
